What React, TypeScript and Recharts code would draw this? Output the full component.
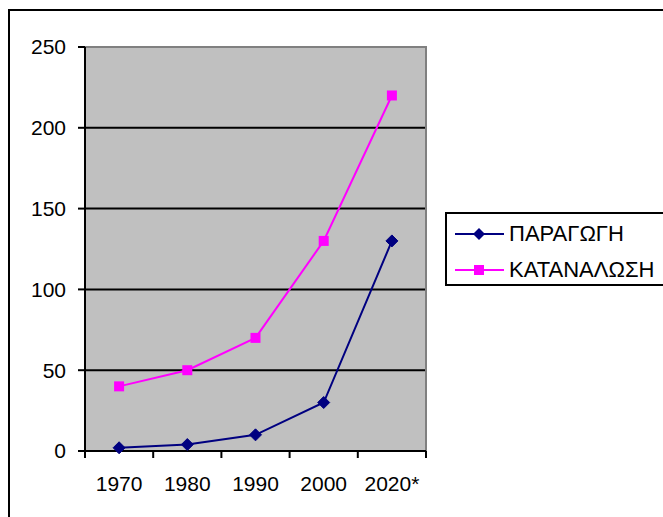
import { LineChart, Line, XAxis, YAxis, CartesianGrid, ReferenceArea } from 'recharts'

const years = ['1970', '1980', '1990', '2000', '2020*']
const production = [2, 4, 10, 30, 130] // ΠΑΡΑΓΩΓΗ
const consumption = [40, 50, 70, 130, 220] // ΚΑΤΑΝΑΛΩΣΗ
const yTicks = [0, 50, 100, 150, 200, 250]
const gridValues = [50, 100, 150, 200]

const data = years.map((year, i) => ({
  year,
  production: production[i],
  consumption: consumption[i],
}))

const FONT = '"Liberation Sans", Arial, sans-serif'
const NAVY = '#000080'
const MAGENTA = '#FF00FF'

function Diamond({ cx, cy }: any) {
  if (cx == null || cy == null) return null
  const r = 6
  return (
    <polygon
      points={`${cx},${cy - r} ${cx + r},${cy} ${cx},${cy + r} ${cx - r},${cy}`}
      fill={NAVY}
      stroke={NAVY}
    />
  )
}

function Square({ cx, cy }: any) {
  if (cx == null || cy == null) return null
  const s = 10
  return <rect x={cx - s / 2} y={cy - s / 2} width={s} height={s} fill={MAGENTA} />
}

// Excel-style category axis: tick marks sit between categories, labels in the middle
function YearTick(props: any) {
  const { x, y, payload, index, width } = props
  const band = width / years.length
  const left = x - band / 2
  return (
    <g>
      <line x1={left} y1={y} x2={left} y2={y + 7} stroke="#000" strokeWidth={2} />
      {index === years.length - 1 && (
        <line x1={x + band / 2} y1={y} x2={x + band / 2} y2={y + 7} stroke="#000" strokeWidth={2} />
      )}
      <text x={x} y={y + 25} dy="0.71em" textAnchor="middle" fill="#000" fontSize={21} fontFamily={FONT}>
        {payload.value}
      </text>
    </g>
  )
}

function LegendRow({ color, label, marker }: { color: string; label: string; marker: 'diamond' | 'square' }) {
  return (
    <div style={{ display: 'flex', alignItems: 'center', height: 36 }}>
      <svg width={56} height={20} style={{ marginLeft: 6 }}>
        <line x1={2} y1={10} x2={51} y2={10} stroke={color} strokeWidth={2} />
        {marker === 'diamond' ? (
          <polygon points="26,4 32,10 26,16 20,10" fill={color} />
        ) : (
          <rect x={21} y={5} width={10} height={10} fill={color} />
        )}
      </svg>
      <span style={{ fontFamily: FONT, fontSize: 22, color: '#000', whiteSpace: 'nowrap', lineHeight: 1 }}>{label}</span>
    </div>
  )
}

export default function App() {
  return (
    <div
      style={{
        position: 'absolute',
        left: 0,
        top: 0,
        width: 663,
        height: 517,
        overflow: 'hidden',
        background: '#fff',
      }}
    >
      <div
        style={{
          position: 'absolute',
          left: 8,
          top: 9,
          width: 700,
          height: 600,
          border: '2px solid #000',
        }}
      />
      <LineChart
        width={663}
        height={517}
        data={data}
        margin={{ top: 47, right: 237, bottom: 0, left: 0 }}
        style={{ position: 'absolute', left: 0, top: 0 }}
      >
        <CartesianGrid
          fill="#C0C0C0"
          vertical={false}
          horizontalValues={gridValues}
          stroke="#000"
          strokeWidth={2}
        />
        <ReferenceArea y1={0} y2={250} fill="none" stroke="#808080" strokeWidth={2} ifOverflow="visible" />
        <XAxis
          dataKey="year"
          scale="band"
          height={66}
          axisLine={{ stroke: '#000', strokeWidth: 2 }}
          tickLine={false}
          tickSize={0}
          tickMargin={0}
          tick={<YearTick />}
          interval={0}
        />
        <YAxis
          width={85}
          domain={[0, 250]}
          ticks={yTicks}
          axisLine={{ stroke: '#000', strokeWidth: 2 }}
          tickLine={{ stroke: '#000', strokeWidth: 2 }}
          tickSize={7}
          tickMargin={12}
          tick={{ fontSize: 21, fill: '#000', fontFamily: FONT }}
        />
        <Line
          dataKey="production"
          name="ΠΑΡΑΓΩΓΗ"
          stroke={NAVY}
          strokeWidth={2}
          dot={<Diamond />}
          activeDot={false}
          isAnimationActive={false}
        />
        <Line
          dataKey="consumption"
          name="ΚΑΤΑΝΑΛΩΣΗ"
          stroke={MAGENTA}
          strokeWidth={2}
          dot={<Square />}
          activeDot={false}
          isAnimationActive={false}
        />
      </LineChart>
      <div
        style={{
          position: 'absolute',
          left: 445,
          top: 212,
          width: 260,
          height: 74,
          border: '2px solid #000',
          background: '#fff',
          paddingTop: 2,
          boxSizing: 'border-box',
        }}
      >
        <LegendRow color={NAVY} label="ΠΑΡΑΓΩΓΗ" marker="diamond" />
        <LegendRow color={MAGENTA} label="ΚΑΤΑΝΑΛΩΣΗ" marker="square" />
      </div>
    </div>
  )
}
